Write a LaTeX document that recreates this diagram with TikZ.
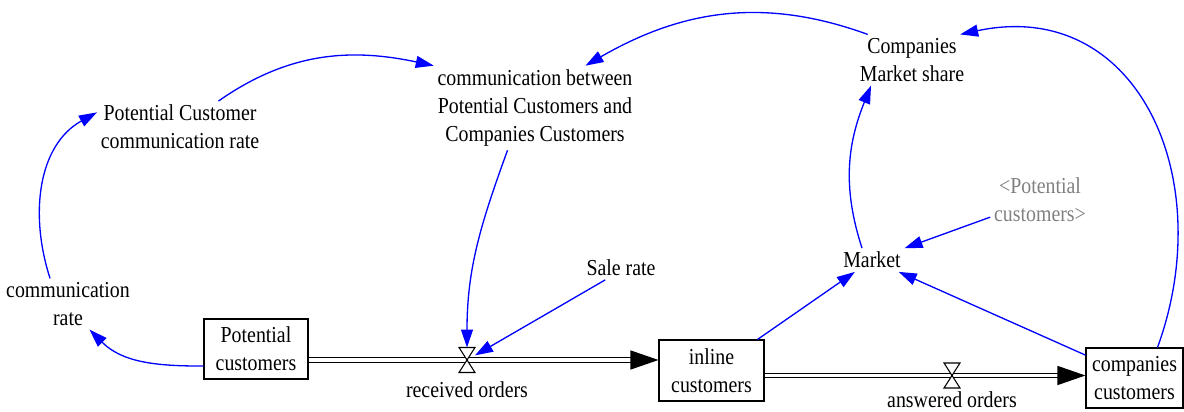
\documentclass[tikz,border=0pt]{standalone}
\usepackage{fontspec}
\setmainfont{Liberation Serif}[FakeStretch=0.87]
\usetikzlibrary{arrows.meta, positioning}
\tikzstyle{aux} = [inner sep=2pt, align=center, font=\fontsize{13pt}{16pt}\selectfont]
\tikzstyle{ghost} = [aux, text=gray]
\tikzstyle{stock} = [aux, rectangle, draw=black, fill=white, line width=0.6pt, minimum width=2.08cm, minimum height=1.2cm]
\tikzstyle{valve} = [rectangle, inner sep=0pt, outer sep=0pt, minimum width=0.32cm, minimum height=0.5cm]
\tikzstyle{link} = [blue, line width=0.75pt, -{Triangle[length=0.36cm, width=0.24cm]}]
\tikzstyle{pipe} = [draw=black, double=white, double distance=1.8pt, line width=0.7pt, -{Triangle[length=0.56cm, width=0.38cm]}]

\begin{document}
\begin{tikzpicture}[x=0.02cm, y=0.02cm]
\useasboundingbox (0,0) rectangle (1184,412);

% Stocks
\node (pcust) [stock] at (256,63) {Potential\\customers};
\node (inline) [stock, minimum width=2.1cm, minimum height=1.22cm] at (711.5,41.5) {inline\\customers};
\node (ccust) [stock, minimum width=1.94cm] at (1134.5,34) {companies\\customers};

% Valves and their rates
\node (recv) [valve] at (467,52) {};
\node (answ) [valve] at (952,36.5) {};
\node (recvlbl) [aux, below=0.1cm of recv] {received orders};
\node (answlbl) [aux, below=0pt of answ] {answered orders};

% Auxiliaries
\node (crate) [aux] at (68,108) {communication\\rate};
\node (pcrate) [aux] at (180,285) {Potential Customer\\communication rate};
\node (between) [aux] at (535,304) {communication between\\Potential Customers and\\Companies Customers};
\node (mshare) [aux] at (912,352) {Companies\\Market share};
\node (potref) [ghost] at (1040,212) {<Potential\\customers>};
\node (market) [aux] at (872,152) {Market};
\node (sale) [aux] at (621,144) {Sale rate};

% Flows
\draw [pipe] (pcust.east |- recv) -- (inline.west |- recv);
\draw [pipe] (inline.east |- answ) -- (ccust.west |- answ);
\draw [fill=white, line width=0.6pt] (recv.north west) -- (recv.north east) -- (recv.south west) -- (recv.south east) -- cycle;
\draw [fill=white, line width=0.6pt] (answ.north west) -- (answ.north east) -- (answ.south west) -- (answ.south east) -- cycle;

% Connections
\draw [link] (pcust.198) to[out=180, in=-45] (crate.-50);
\draw [link] (crate.125) to[out=108, in=-151] (pcrate.170);
\draw [link] (pcrate.34) to[out=35, in=168] (between.north west);
\draw [link] (mshare.150) to[out=160, in=30] (between.40);
\draw [link] (between.237) to[out=-110, in=90] (recv.north);
\draw [link] (sale.217) -- (recv);
\draw [link] (inline.34) -- (market);
\draw [link] (market.130) to[out=108, in=-112] (mshare.212);
\draw [link] (potref.199) -- (market);
\draw [link] (ccust.155) -- (market);
\draw [link] (ccust.53) to[out=70, in=12, looseness=1.25] (mshare.28);

\end{tikzpicture}
\end{document}
